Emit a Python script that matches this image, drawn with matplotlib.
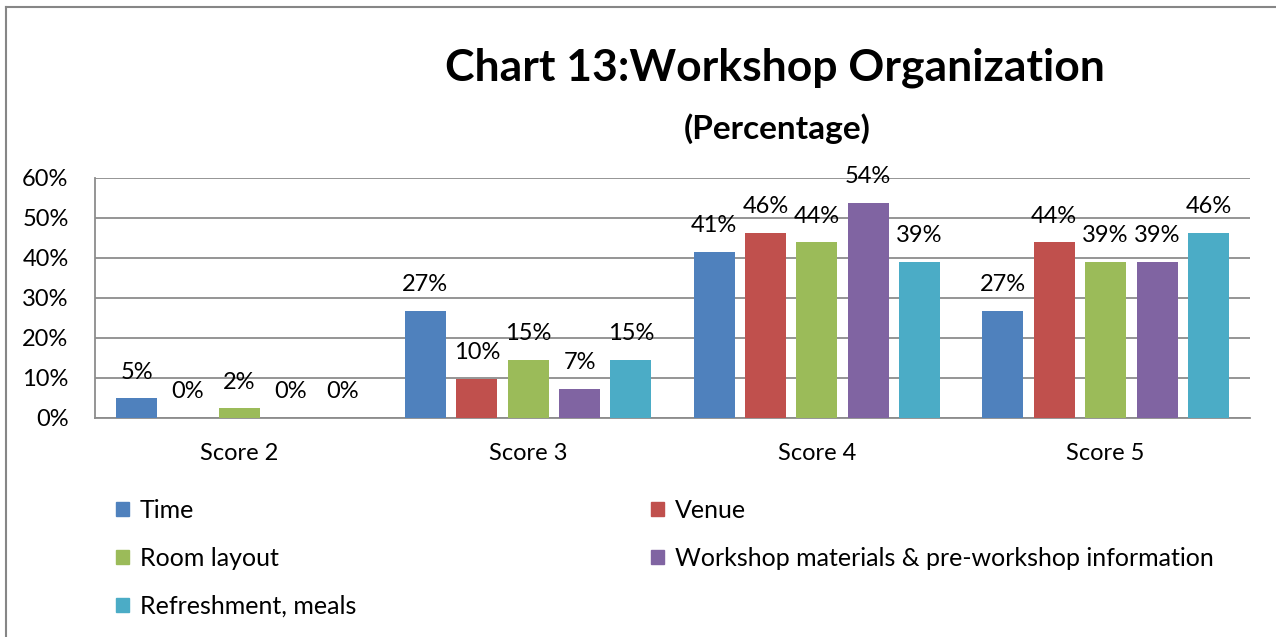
import numpy as np
import matplotlib.pyplot as plt
from matplotlib.lines import Line2D
from matplotlib.patches import Patch

plt.rcParams['font.family'] = ['Lato', 'DejaVu Sans']

categories = ['Score 2', 'Score 3', 'Score 4', 'Score 5']
series = ['Time', 'Venue', 'Room layout',
          'Workshop materials & pre-workshop information', 'Refreshment, meals']
time_vals = [4.9, 26.8, 41.46, 26.8]
venue_vals = [0.0, 9.8, 46.3, 43.9]
room_vals = [2.4, 14.6, 43.9, 39.0]
materials_vals = [0.0, 7.3, 53.7, 39.0]
refresh_vals = [0.0, 14.6, 39.0, 46.3]
colors = ['#4F81BD', '#C0504D', '#9BBB59', '#8064A2', '#4BACC6']

values = [time_vals, venue_vals, room_vals, materials_vals, refresh_vals]

fig = plt.figure(figsize=(12.76, 6.37), dpi=100)
ax = fig.add_axes([95 / 1276, 1 - 418 / 637, (1250 - 95) / 1276, (418 - 178) / 637])

x = np.arange(len(categories))
pitch = 0.178
width = 0.142
handles = []
for i, (name, vals, c) in enumerate(zip(series, values, colors)):
    pos = x + (i - 2) * pitch
    ax.bar(pos, vals, width=width, color=c, zorder=3)
    for px, v in zip(pos, vals):
        ax.annotate(f'{v:.0f}%', (px, v), xytext=(0, 19), textcoords='offset points',
                    ha='center', va='center', fontsize=17, color='black')
    handles.append(Patch(color=c, label=name))

ax.set_xlim(-0.5, 3.5)
ax.set_ylim(0, 60)
ax.set_yticks(range(0, 61, 10))
ax.set_yticklabels([f'{t}%' for t in range(0, 61, 10)])
ax.set_xticks(x)
ax.set_xticklabels(categories)
ax.tick_params(axis='both', length=0, labelsize=17, colors='black')
ax.tick_params(axis='x', pad=18)
ax.tick_params(axis='y', pad=19)
ax.grid(axis='y', color='#8c8c8c', linewidth=1.3, zorder=0)
for s in ['top', 'right']:
    ax.spines[s].set_visible(False)
for s in ['left', 'bottom']:
    ax.spines[s].set_color('#8c8c8c')
    ax.spines[s].set_linewidth(1.3)

fig.text(775 / 1276, 1 - 68 / 637, 'Chart 13:Workshop Organization',
         ha='center', va='center', fontsize=32, fontweight='bold')
fig.text(777 / 1276, 1 - 129 / 637, '(Percentage)',
         ha='center', va='center', fontsize=24, fontweight='bold')

leg_kw = dict(frameon=False, fontsize=18, handlelength=0.5, handleheight=0.5,
              handletextpad=0.45, labelspacing=1.0, borderaxespad=0, borderpad=0)
fig.legend(handles=[handles[0], handles[2], handles[4]], loc='upper left',
           bbox_to_anchor=(116 / 1276, 1 - 499 / 637), **leg_kw)
fig.legend(handles=[handles[1], handles[3]], loc='upper left',
           bbox_to_anchor=(651 / 1276, 1 - 499 / 637), **leg_kw)

# chart border (left and top edges visible)
fig.add_artist(Line2D([6 / 1276, 6 / 1276], [0, 1 - 7 / 637], transform=fig.transFigure,
                      color='#868686', linewidth=1.5))
fig.add_artist(Line2D([6 / 1276, 1], [1 - 7 / 637, 1 - 7 / 637], transform=fig.transFigure,
                      color='#868686', linewidth=1.5))

fig.savefig('out.png', dpi=100)
